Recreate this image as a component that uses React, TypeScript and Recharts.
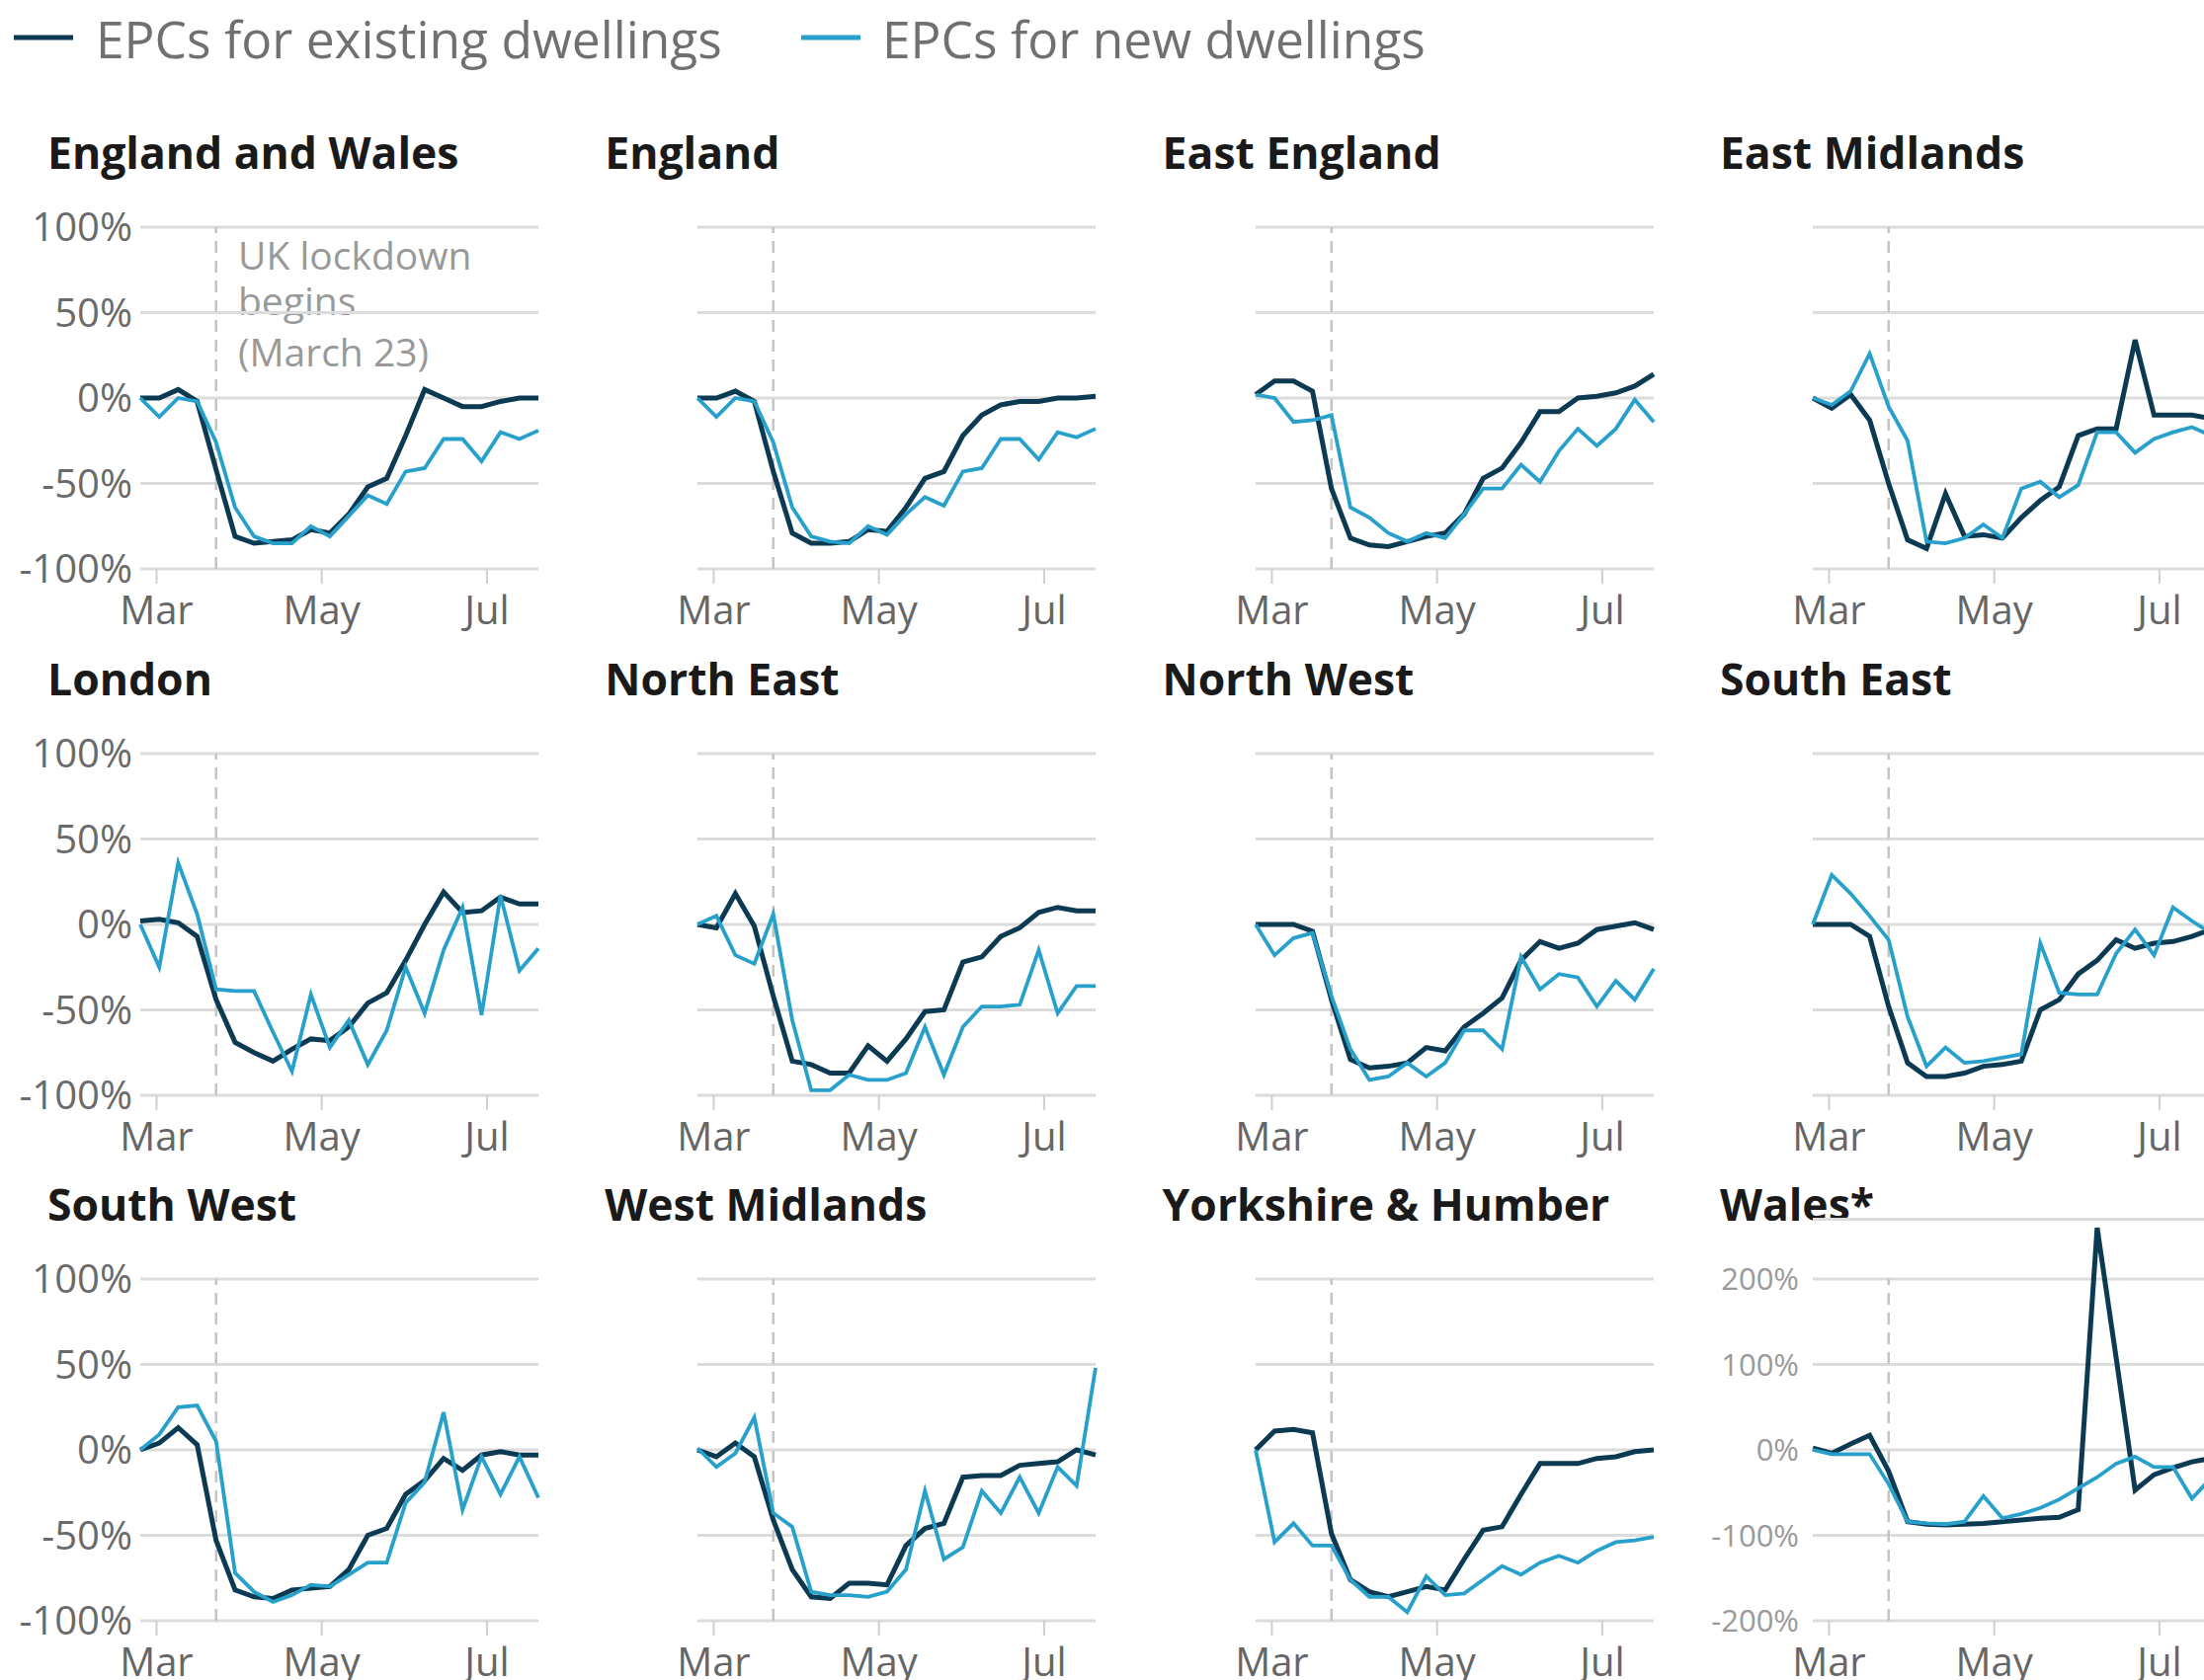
import React from 'react';
import { LineChart, Line, XAxis, YAxis, CartesianGrid, ReferenceLine } from 'recharts';

// Week positions, in days counted from 1 March 2020 (first point: 23 February).
const weekDays = [-6, 1, 8, 15, 22, 29, 36, 43, 50, 57, 64, 71, 78, 85, 92, 99, 106, 113, 120, 127, 134, 141];
const monthTicks = [0, 61, 122];
const monthLabels = ['Mar', 'May', 'Jul'];
const lockdownDay = 22; // 23 March 2020

const pctTicks = [-100, -50, 0, 50, 100];
const walesTicks = [-200, -100, 0, 100, 200];

// Year-on-year change (%) in lodged EPCs, existing vs new dwellings
const ewExisting = [0, 0, 5, -2, -42, -81, -85, -84, -83, -77, -79, -68, -52, -47, -22, 5, 0, -5, -5, -2, 0, 0];
const ewNew = [0, -11, 0, -2, -26, -64, -81, -85, -85, -75, -81, -69, -57, -62, -43, -41, -24, -24, -37, -20, -24, -19];

const engExisting = [0, 0, 4, -2, -43, -79, -85, -85, -84, -77, -78, -64, -47, -43, -22, -10, -4, -2, -2, 0, 0, 1];
const engNew = [0, -11, 0, -2, -26, -64, -81, -84, -85, -75, -80, -68, -58, -63, -43, -41, -24, -24, -36, -20, -23, -18];

const eastExisting = [2, 10, 10, 4, -53, -82, -86, -87, -84, -81, -79, -68, -47, -41, -26, -8, -8, 0, 1, 3, 7, 14];
const eastNew = [2, 0, -14, -13, -10, -64, -70, -79, -84, -79, -82, -68, -53, -53, -39, -49, -31, -18, -28, -18, -1, -14];

const emExisting = [0, -6, 2, -13, -50, -83, -88, -56, -81, -80, -82, -70, -60, -52, -22, -18, -18, 34, -10, -10, -10, -12];
const emNew = [0, -4, 4, 26, -5, -25, -84, -85, -82, -74, -82, -53, -49, -58, -51, -20, -20, -32, -24, -20, -17, -22];

const londonExisting = [2, 3, 1, -7, -44, -69, -75, -80, -73, -67, -68, -60, -46, -40, -21, 0, 19, 7, 8, 16, 12, 12];
const londonNew = [0, -25, 36, 6, -38, -39, -39, -63, -86, -41, -72, -56, -82, -62, -25, -52, -15, 10, -53, 17, -27, -14];

const neExisting = [0, -2, 18, -1, -42, -80, -82, -87, -87, -71, -80, -67, -51, -50, -22, -19, -7, -2, 7, 10, 8, 8];
const neNew = [0, 5, -18, -23, 6, -56, -97, -97, -88, -91, -91, -87, -60, -88, -60, -48, -48, -47, -15, -52, -36, -36];

const nwExisting = [0, 0, 0, -4, -44, -79, -84, -83, -81, -72, -74, -60, -52, -43, -21, -10, -14, -11, -3, -1, 1, -3];
const nwNew = [0, -18, -8, -5, -42, -73, -91, -89, -81, -89, -81, -62, -62, -73, -19, -38, -29, -31, -48, -33, -44, -26];

const seExisting = [0, 0, 0, -7, -48, -81, -89, -89, -87, -83, -82, -80, -50, -44, -29, -21, -9, -14, -11, -10, -7, -3];
const seNew = [0, 29, 18, 5, -9, -54, -83, -72, -81, -80, -78, -76, -11, -40, -41, -41, -17, -3, -18, 10, 2, -5];

const swExisting = [0, 4, 13, 3, -53, -82, -86, -87, -82, -81, -80, -70, -50, -46, -26, -18, -5, -12, -3, -1, -3, -3];
const swNew = [0, 9, 25, 26, 5, -72, -83, -89, -85, -79, -80, -73, -66, -66, -31, -19, 22, -35, -4, -26, -4, -28];

const wmExisting = [0, -4, 4, -4, -41, -70, -86, -87, -78, -78, -79, -56, -46, -43, -16, -15, -15, -9, -8, -7, 0, -3];
const wmNew = [1, -10, -2, 19, -37, -45, -83, -85, -85, -86, -83, -70, -24, -64, -57, -24, -37, -16, -37, -10, -21, 48];

const yhExisting = [0, 11, 12, 10, -49, -76, -83, -86, -83, -80, -82, -64, -47, -45, -26, -8, -8, -8, -5, -4, -1, 0];
const yhNew = [0, -54, -43, -56, -56, -76, -86, -86, -95, -74, -85, -84, -76, -68, -73, -66, -62, -66, -59, -54, -53, -51];

const walesExisting = [2, -4, 7, 17, -25, -84, -87, -88, -87, -86, -84, -82, -80, -79, -70, 260, 108, -47, -29, -21, -14, -10];
const walesNew = [0, -5, -5, -5, -40, -84, -86, -87, -84, -54, -80, -75, -68, -58, -45, -32, -16, -8, -20, -20, -57, -33];

const EXISTING_COLOR = '#0b3a52';
const NEW_COLOR = '#27a0cc';
const FONT = "'Open Sans', 'Noto Sans', sans-serif";

type PanelDef = {
  title: string;
  existing: number[];
  newer: number[];
  axis: 'main' | 'wales' | 'none';
};

const panels: PanelDef[] = [
  { title: 'England and Wales', existing: ewExisting, newer: ewNew, axis: 'main' },
  { title: 'England', existing: engExisting, newer: engNew, axis: 'none' },
  { title: 'East England', existing: eastExisting, newer: eastNew, axis: 'none' },
  { title: 'East Midlands', existing: emExisting, newer: emNew, axis: 'none' },
  { title: 'London', existing: londonExisting, newer: londonNew, axis: 'main' },
  { title: 'North East', existing: neExisting, newer: neNew, axis: 'none' },
  { title: 'North West', existing: nwExisting, newer: nwNew, axis: 'none' },
  { title: 'South East', existing: seExisting, newer: seNew, axis: 'none' },
  { title: 'South West', existing: swExisting, newer: swNew, axis: 'main' },
  { title: 'West Midlands', existing: wmExisting, newer: wmNew, axis: 'none' },
  { title: 'Yorkshire & Humber', existing: yhExisting, newer: yhNew, axis: 'none' },
  { title: 'Wales*', existing: walesExisting, newer: walesNew, axis: 'wales' },
];

const COL_W = 564.3;
const ROW_H = 532.5;
const CHART_W = 564;
const X_AXIS_H = 84;
const AXIS_W = 142;
const PLOT_TOP = 130;
const PLOT_H = 346;
const CHART_H = PLOT_TOP + PLOT_H + X_AXIS_H;
// Wales keeps the same gridline spacing, but leaves headroom above 200% for its spike
const WALES_MAX = 270;
const WALES_TOP = PLOT_TOP - ((WALES_MAX - 200) * PLOT_H) / 400;

const pctFormat = (v: number) => `${v}%`;
const monthFormat = (v: number) => monthLabels[monthTicks.indexOf(v)] ?? '';

function Panel({ def, index }: { def: PanelDef; index: number }) {
  const col = index % 4;
  const row = Math.floor(index / 4);
  const data = weekDays.map((d, i) => ({ day: d, existing: def.existing[i], newer: def.newer[i] }));
  const isWales = def.axis === 'wales';
  const showY = def.axis !== 'none';
  const yLow = isWales ? -200 : -100;
  const yHigh = isWales ? 200 : 100;
  return (
    <div style={{ position: 'absolute', left: col * COL_W, top: 100 + row * ROW_H, width: CHART_W, height: CHART_H }}>
      <LineChart
        width={CHART_W}
        height={CHART_H}
        data={data}
        margin={{ top: isWales ? WALES_TOP : PLOT_TOP, right: 19, bottom: 0, left: showY ? 0 : AXIS_W }}
      >
        <CartesianGrid vertical={false} stroke="#dcdcdc" strokeWidth={3} />
        <XAxis
          dataKey="day"
          type="number"
          domain={[-6, 141]}
          ticks={monthTicks}
          interval={0}
          tickFormatter={monthFormat}
          axisLine={false}
          tickLine={{ stroke: '#cfcfcf', strokeWidth: 2 }}
          tickSize={15}
          tickMargin={13}
          height={X_AXIS_H}
          tick={{ fontSize: 40, fill: '#666666', fontFamily: FONT }}
        />
        <YAxis
          type="number"
          domain={isWales ? [-200, WALES_MAX] : [-100, 100]}
          ticks={isWales ? walesTicks : pctTicks}
          interval={0}
          tickFormatter={pctFormat}
          hide={!showY}
          width={AXIS_W}
          axisLine={false}
          tickLine={false}
          tickSize={0}
          tickMargin={isWales ? 14 : 8}
          tick={{ fontSize: isWales ? 31 : 40, fill: isWales ? '#9a9a9a' : '#6a6a6a', fontFamily: FONT }}
        />
        <ReferenceLine
          segment={[
            { x: lockdownDay, y: yLow },
            { x: lockdownDay, y: yHigh },
          ]}
          stroke="#c4c4c4"
          strokeWidth={2.5}
          strokeDasharray="12 8"
        />
        <Line
          type="linear"
          dataKey="existing"
          stroke={EXISTING_COLOR}
          strokeWidth={5}
          dot={false}
          isAnimationActive={false}
        />
        <Line
          type="linear"
          dataKey="newer"
          stroke={NEW_COLOR}
          strokeWidth={3.8}
          dot={false}
          isAnimationActive={false}
        />
      </LineChart>
    </div>
  );
}

export default function App() {
  return (
    <div
      style={{
        position: 'absolute',
        left: 0,
        top: 0,
        width: 2231,
        height: 1701,
        overflow: 'hidden',
        background: '#ffffff',
        fontFamily: FONT,
      }}
    >
      <svg width={2231} height={1701} style={{ position: 'absolute', left: 0, top: 0 }}>
        <line x1={14} x2={74} y1={38} y2={38} stroke={EXISTING_COLOR} strokeWidth={5} />
        <text x={97} y={59} fontSize={51.5} fill="#707070" fontFamily={FONT}>
          EPCs for existing dwellings
        </text>
        <line x1={811} x2={871} y1={38} y2={38} stroke={NEW_COLOR} strokeWidth={5} />
        <text x={893} y={59} fontSize={51.5} fill="#707070" fontFamily={FONT}>
          EPCs for new dwellings
        </text>
        {panels.map((p, i) => (
          <text
            key={p.title}
            x={48 + (i % 4) * COL_W}
            y={171 + Math.floor(i / 4) * ROW_H}
            fontSize={44.5}
            fontWeight={700}
            fill="#1a1a1a"
            fontFamily={FONT}
          >
            {p.title}
          </text>
        ))}
        <g fontSize={39} fill="#999999" fontFamily={FONT}>
          <text x={241} y={273}>UK lockdown</text>
          <text x={241} y={319}>begins</text>
          <text x={241} y={371}>(March 23)</text>
        </g>
      </svg>
      {panels.map((p, i) => (
        <Panel key={p.title} def={p} index={i} />
      ))}
    </div>
  );
}
